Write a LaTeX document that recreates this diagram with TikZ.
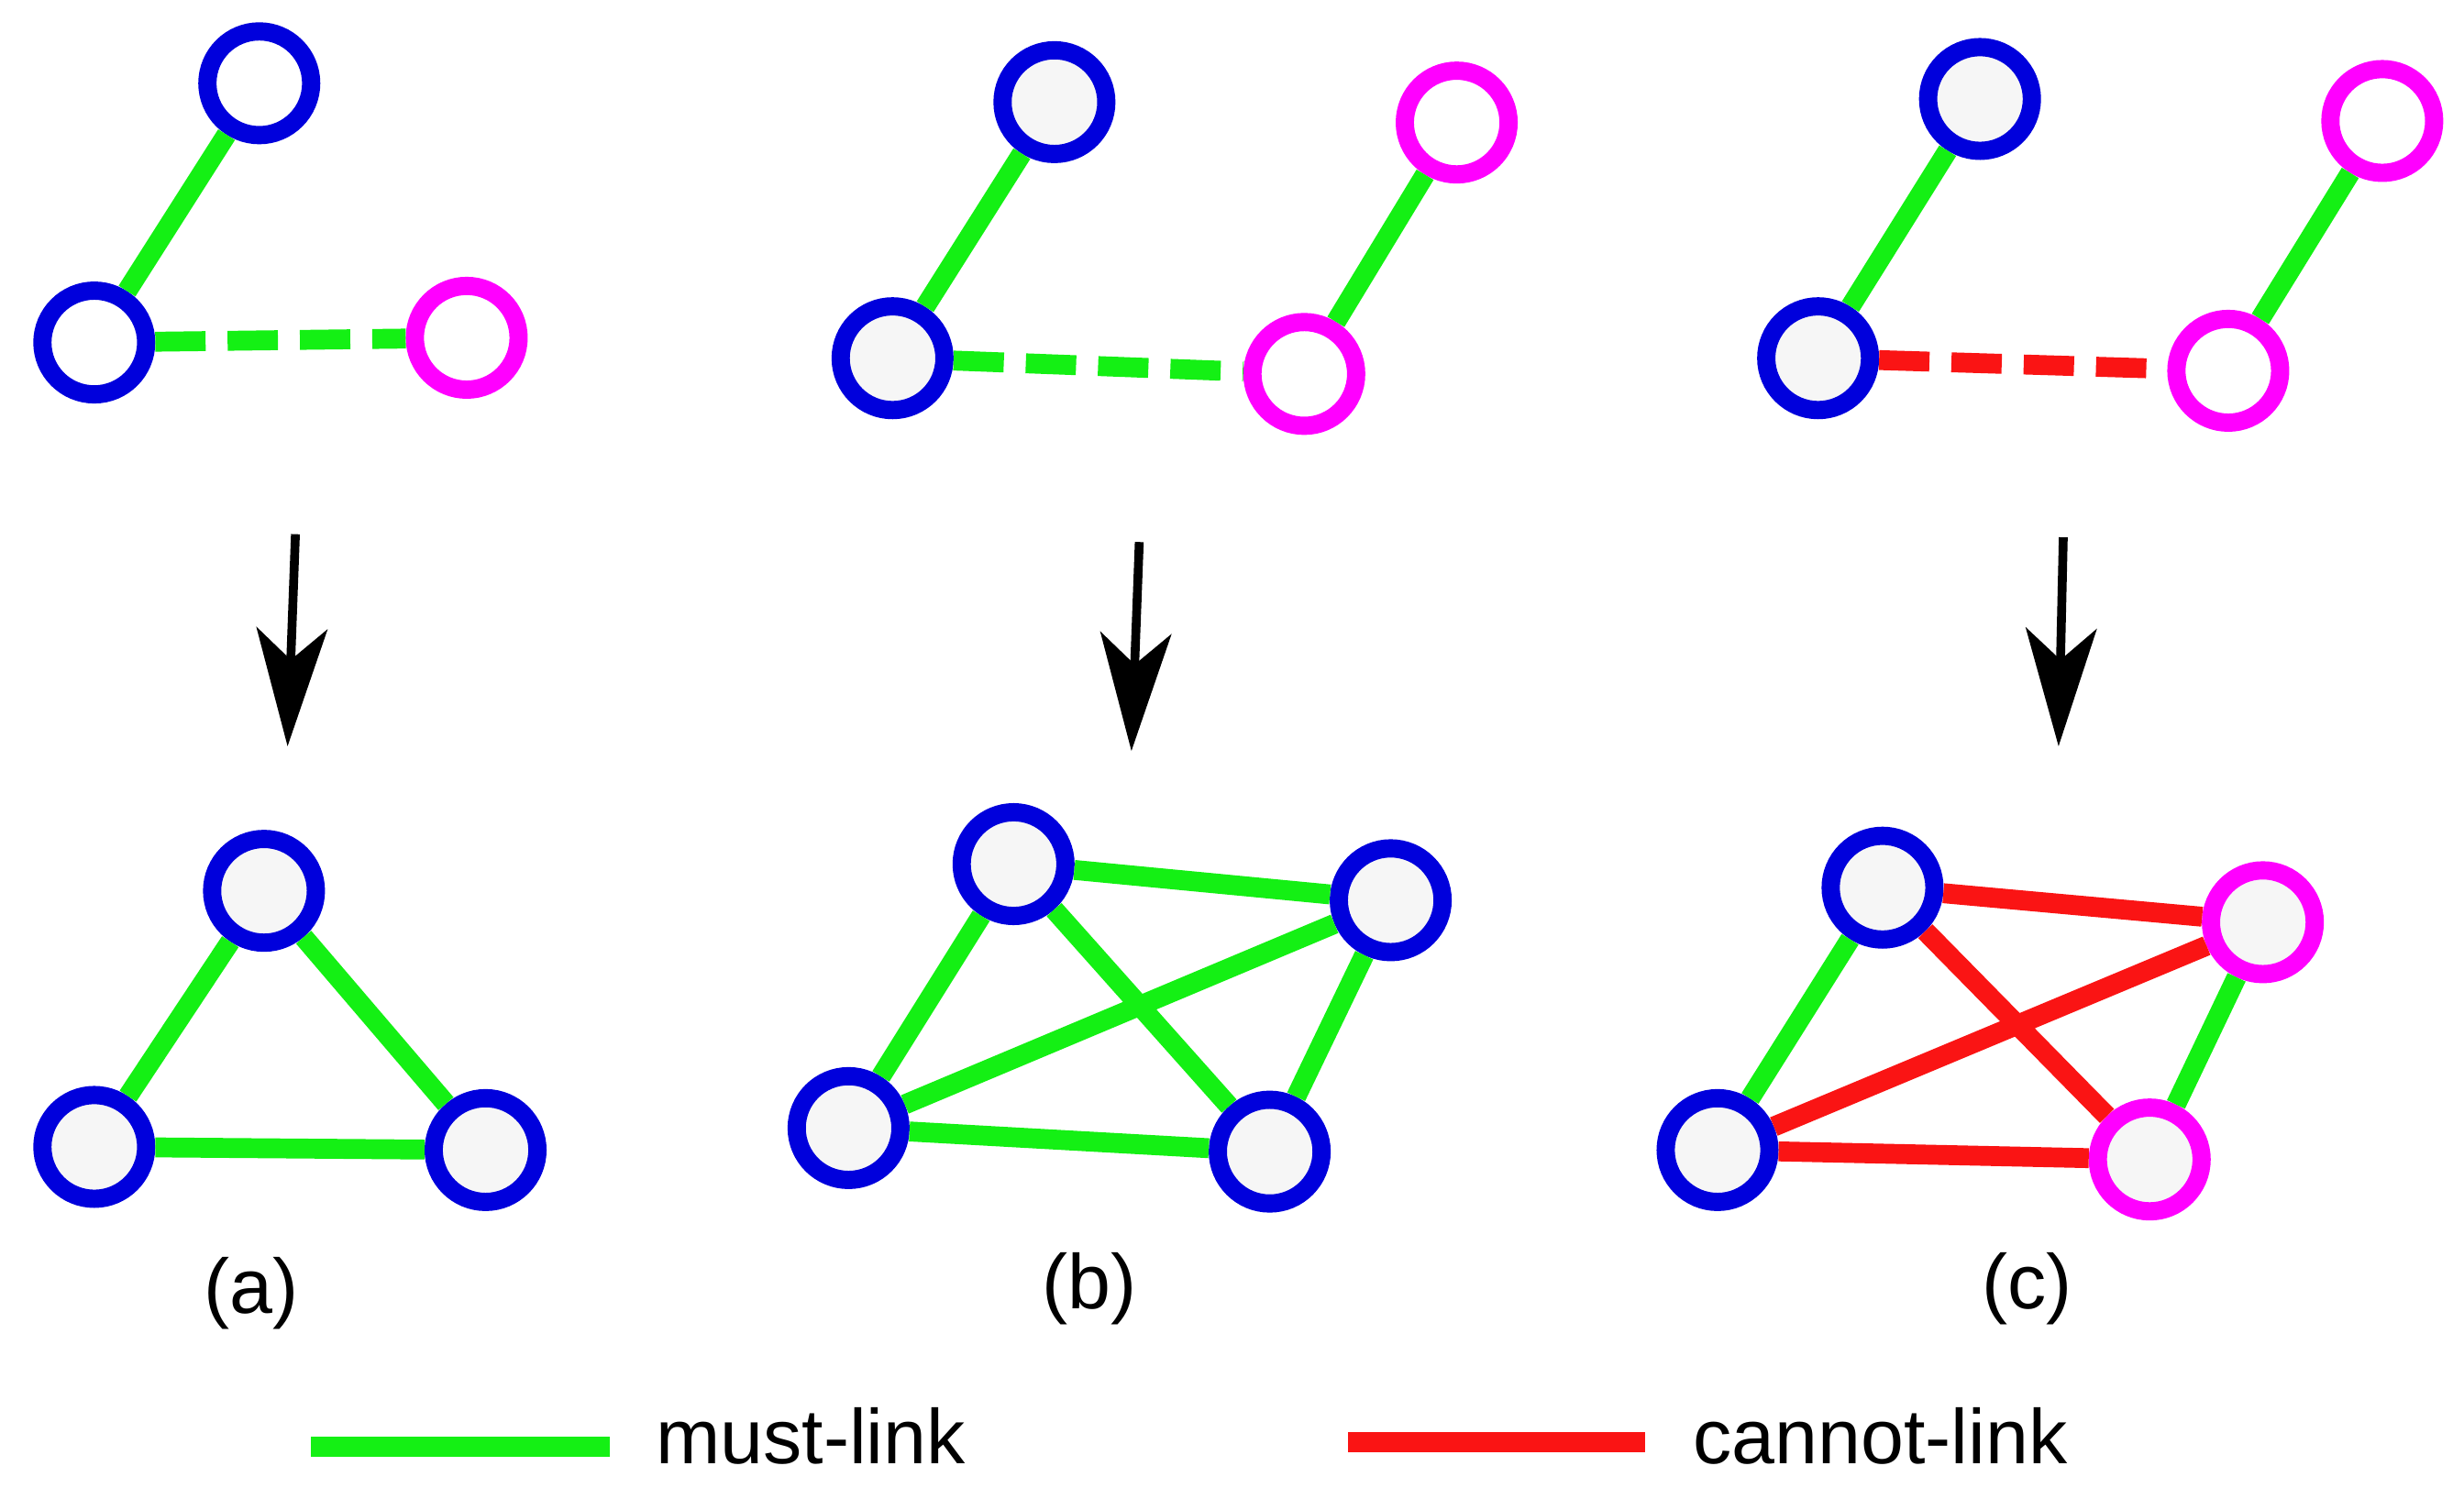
\documentclass[tikz,border=0pt]{standalone}
\usepackage{fontspec}
\setmainfont{Liberation Sans}
\usetikzlibrary{arrows.meta}
\definecolor{gr}{RGB}{20,240,20}
\definecolor{rd}{RGB}{250,20,20}
\definecolor{bl}{RGB}{0,0,220}
\definecolor{mg}{RGB}{255,0,255}
\definecolor{fl}{RGB}{246,246,246}
\begin{document}
\begin{tikzpicture}[x=0.01cm,y=-0.01cm,
 b/.style={circle,draw=bl,line width=3.3pt,minimum size=0.66cm,inner sep=0,fill=fl},
 bw/.style={b,fill=white},
 m/.style={circle,draw=mg,line width=3.3pt,minimum size=0.66cm,inner sep=0,fill=white},
 mf/.style={m,fill=fl},
 g/.style={draw=gr,line width=3.6pt},
 r/.style={draw=rd,line width=3.6pt},
 ds/.style={dash pattern=on 0.32cm off 0.14cm},
 ar/.style={draw=black,line width=1.6pt,-{Stealth[length=0.75cm,width=0.45cm,inset=0.2cm]}},
 lab/.style={font=\fontsize{14}{16}\selectfont}]
\useasboundingbox (0,0) rectangle (1568,954);
% (a) top
\node[bw] (a1) at (165,53) {};
\node[bw] (a2) at (60,218) {};
\node[m] (a3) at (297,215) {};
\path[g] (a1)--(a2);
\path[g,ds] (a2)--(a3);
% (a) bottom
\node[b] (p1) at (168,567) {};
\node[b] (p2) at (60,730) {};
\node[b] (p3) at (309,732) {};
\path[g] (p1)--(p2) (p1)--(p3) (p2)--(p3);
\coordinate (as) at (188,340); \coordinate (ae) at (183,475);
\draw[ar] (as)--(ae);
% (b) top
\node[b] (b1) at (671,65) {};
\node[b] (b2) at (568,228) {};
\node[m] (b3) at (830,238) {};
\node[m] (b4) at (927,78) {};
\path[g] (b1)--(b2) (b3)--(b4);
\path[g,ds] (b2)--(b3);
% (b) bottom
\node[b] (q1) at (645,550) {};
\node[b] (q2) at (885,573) {};
\node[b] (q3) at (540,718) {};
\node[b] (q4) at (808,733) {};
\path[g] (q1)--(q2) (q1)--(q3) (q1)--(q4) (q2)--(q3) (q2)--(q4) (q3)--(q4);
\coordinate (bs) at (725,345); \coordinate (be) at (720,478);
\draw[ar] (bs)--(be);
% (c) top
\node[b] (c1) at (1260,63) {};
\node[b] (c2) at (1157,228) {};
\node[m] (c3) at (1418,236) {};
\node[m] (c4) at (1516,77) {};
\path[g] (c1)--(c2) (c3)--(c4);
\path[r,ds] (c2)--(c3);
% (c) bottom
\node[b] (s1) at (1198,565) {};
\node[mf] (s2) at (1440,587) {};
\node[b] (s3) at (1093,732) {};
\node[mf] (s4) at (1368,738) {};
\path[g] (s1)--(s3) (s2)--(s4);
\path[r] (s1)--(s2) (s1)--(s4) (s2)--(s3) (s3)--(s4);
\coordinate (cs) at (1313,342); \coordinate (ce) at (1310,475);
\draw[ar] (cs)--(ce);
% labels
\node[lab] (la) at (160,823) {(a)};
\node[lab] (lb) at (693,820) {(b)};
\node[lab] (lc) at (1290,820) {(c)};
% legend
\coordinate (g1) at (198,921); \coordinate (g2) at (388,921);
\path[g] (g1)--(g2);
\node[lab,anchor=west] (tm) at (405,914) {must-link};
\coordinate (r1) at (858,918); \coordinate (r2) at (1047,918);
\path[r] (r1)--(r2);
\node[lab,anchor=west] (tc) at (1065,914) {cannot-link};
\end{tikzpicture}
\end{document}
